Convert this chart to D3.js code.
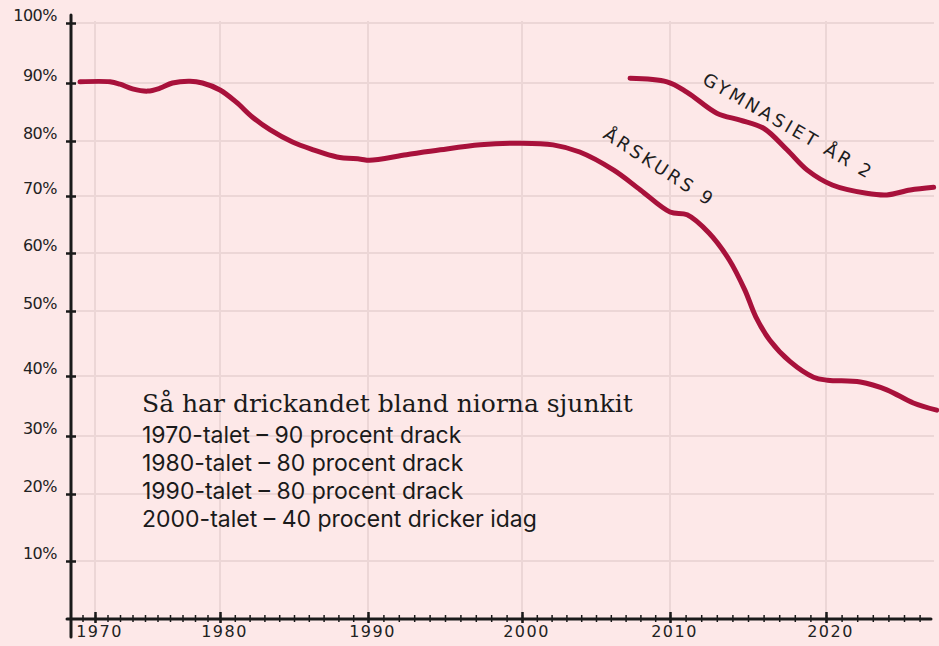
<!DOCTYPE html>
<html>
<head>
<meta charset="utf-8">
<script src="https://cdn.jsdelivr.net/npm/d3@7"></script>
<style>
  html, body { margin: 0; padding: 0; background: #fde8e8; }
  svg { display: block; }
</style>
</head>
<body>
<div id="chart"></div>
<script>
// ---- data ----
const yearsArskurs9 = [1968.8, 1971.2, 1972, 1973, 1974.2, 1975.2, 1976.2, 1977.6, 1978.6, 1980, 1981.1, 1982.2, 1983.4, 1984.9, 1986.3, 1987.9, 1989.5, 1990.1, 1992.5, 1994.7, 1997.3, 1999.9, 2002.1, 2003.9, 2006.2, 2008, 2010, 2011.1, 2012.5, 2013.8, 2014.8, 2015.5, 2016.4, 2017.7, 2019.2, 2020.1, 2022.2, 2023.9, 2025.6, 2027.1];
const valuesArskurs9 = [90.2, 90.2, 89.8, 89.0, 88.6, 89.1, 90.0, 90.3, 90.0, 88.8, 86.7, 84.1, 81.9, 79.8, 78.4, 77.1, 76.7, 76.5, 77.5, 78.4, 79.3, 79.6, 79.3, 78.0, 74.7, 71.1, 67.2, 66.7, 63.5, 58.8, 53.6, 49.1, 45.5, 42.2, 39.8, 39.3, 39.0, 37.7, 35.5, 34.3];
const yearsGymnasiet = [2007.3, 2009.8, 2011.1, 2013.0, 2014.5, 2016.0, 2017.5, 2018.8, 2020.4, 2022.6, 2023.9, 2025.4, 2026.9];
const valuesGymnasiet = [90.8, 90.2, 88.4, 84.8, 83.6, 82.2, 78.4, 74.7, 72.0, 70.5, 70.2, 71.1, 71.6];
const yTickValues = [10, 20, 30, 40, 50, 60, 70, 80, 90, 100];
const xTickValues = [1970, 1980, 1990, 2000, 2010, 2020];
const seriesLabels = ["ÅRSKURS 9", "GYMNASIET ÅR 2"];
const noteTitle = "Så har drickandet bland niorna sjunkit";
const noteLines = ["1970-talet – 90 procent drack", "1980-talet – 80 procent drack", "1990-talet – 80 procent drack", "2000-talet – 40 procent dricker idag"];

// ---- layout ----
const W = 939, H = 646;
const svg = d3.select("#chart").append("svg").attr("width", W).attr("height", H);
svg.append("rect").attr("width", W).attr("height", H).attr("fill", "#fde8e8");

// hand-drawn axes have slightly uneven spacing -> polylinear scales
const x = d3.scaleLinear()
  .domain([1970, 1980, 1990, 2000, 2010, 2020])
  .range([95, 220, 368, 522, 670, 826]);
const y = d3.scaleLinear()
  .domain([0, 10, 20, 30, 40, 50, 60, 70, 80, 90, 100])
  .range([619, 561, 494, 436, 376, 311, 253, 196, 141, 83, 23]);

const axisX0 = 71, axisY0 = 619, rightEdge = 934;
const gridColor = "#ecd6d6";
const lineColor = "#a8113b";
const handFont = "'DejaVu Sans', sans-serif";

// grid
const grid = svg.append("g");
grid.selectAll("line.h").data(yTickValues).join("line")
  .attr("class", "h")
  .attr("x1", axisX0).attr("x2", rightEdge)
  .attr("y1", d => y(d)).attr("y2", d => y(d))
  .attr("stroke", gridColor).attr("stroke-width", 2);
grid.selectAll("line.v").data(xTickValues).join("line")
  .attr("class", "v")
  .attr("x1", d => x(d)).attr("x2", d => x(d))
  .attr("y1", y(100) - 2).attr("y2", axisY0)
  .attr("stroke", gridColor).attr("stroke-width", 2);

// y axis
const yAxis = d3.axisLeft(y).tickValues(yTickValues).tickFormat(d => d + "%").tickSize(5).tickPadding(9);
const gy = svg.append("g").attr("transform", `translate(${axisX0},0)`).call(yAxis);
gy.select(".domain").remove();
gy.selectAll(".tick line").attr("x1", -5).attr("x2", 5).attr("stroke", "#1a1a1a").attr("stroke-width", 2.5);
gy.selectAll(".tick text")
  .attr("font-family", handFont).attr("font-size", 16).attr("fill", "#222")
  .attr("dy", "-0.15em").attr("letter-spacing", -0.5);
gy.append("line").attr("x1", 0).attr("x2", 0).attr("y1", 15).attr("y2", 637)
  .attr("stroke", "#1a1a1a").attr("stroke-width", 3).attr("stroke-linecap", "round");

// x axis
const minorYears = d3.range(1969, 2027);
const gxMinor = svg.append("g").attr("transform", `translate(0,${axisY0})`)
  .call(d3.axisBottom(x).tickValues(minorYears).tickFormat("").tickSize(4));
gxMinor.select(".domain").remove();
gxMinor.selectAll(".tick line").attr("y1", -4).attr("y2", 3).attr("stroke", "#1a1a1a").attr("stroke-width", 1.5);

const gx = svg.append("g").attr("transform", `translate(0,${axisY0})`)
  .call(d3.axisBottom(x).tickValues(xTickValues).tickFormat(d3.format("d")).tickSize(4).tickPadding(3));
gx.select(".domain").remove();
gx.selectAll(".tick line").attr("y1", -7).attr("y2", 4).attr("stroke", "#1a1a1a").attr("stroke-width", 2.5);
gx.selectAll(".tick text")
  .attr("font-family", handFont).attr("font-size", 16).attr("fill", "#222")
  .attr("dx", 4).attr("letter-spacing", 1.5);
gx.append("line").attr("x1", 67).attr("x2", 931).attr("y1", 0).attr("y2", 0)
  .attr("stroke", "#1a1a1a").attr("stroke-width", 3).attr("stroke-linecap", "round");

// lines
const line = d3.line().x(d => x(d[0])).y(d => y(d[1])).curve(d3.curveCatmullRom.alpha(0.5));
const s1 = d3.zip(yearsArskurs9, valuesArskurs9);
const s2 = d3.zip(yearsGymnasiet, valuesGymnasiet);
svg.append("g").selectAll("path").data([s1, s2]).join("path")
  .attr("d", line).attr("fill", "none")
  .attr("stroke", lineColor).attr("stroke-width", 5)
  .attr("stroke-linecap", "round").attr("stroke-linejoin", "round");

// series labels (hand-lettered, rotated)
const labelPos = [
  { t: seriesLabels[0], yr: 2009.3, v: 75.3, a: 33 },
  { t: seriesLabels[1], yr: 2017.6, v: 82.6, a: 30 }
];
svg.append("g").selectAll("text").data(labelPos).join("text")
  .attr("transform", d => `translate(${x(d.yr)},${y(d.v)}) rotate(${d.a})`)
  .attr("text-anchor", "middle").attr("dominant-baseline", "central")
  .attr("font-family", handFont).attr("font-size", 18).attr("letter-spacing", 3)
  .attr("fill", "#1e1e1e")
  .text(d => d.t);

// annotation
const note = svg.append("g").attr("transform", "translate(142,0)");
note.append("text").attr("x", 0).attr("y", 412)
  .attr("font-family", "'DejaVu Serif', serif").attr("font-size", 25).attr("fill", "#1a1a1a")
  .text(noteTitle);
note.selectAll("text.l").data(noteLines).join("text").attr("class", "l")
  .attr("x", 0).attr("y", (d, i) => 443 + i * 28)
  .attr("font-family", "Inter, sans-serif").attr("font-size", 23).attr("fill", "#1a1a1a")
  .text(d => d);
</script>
</body>
</html>
